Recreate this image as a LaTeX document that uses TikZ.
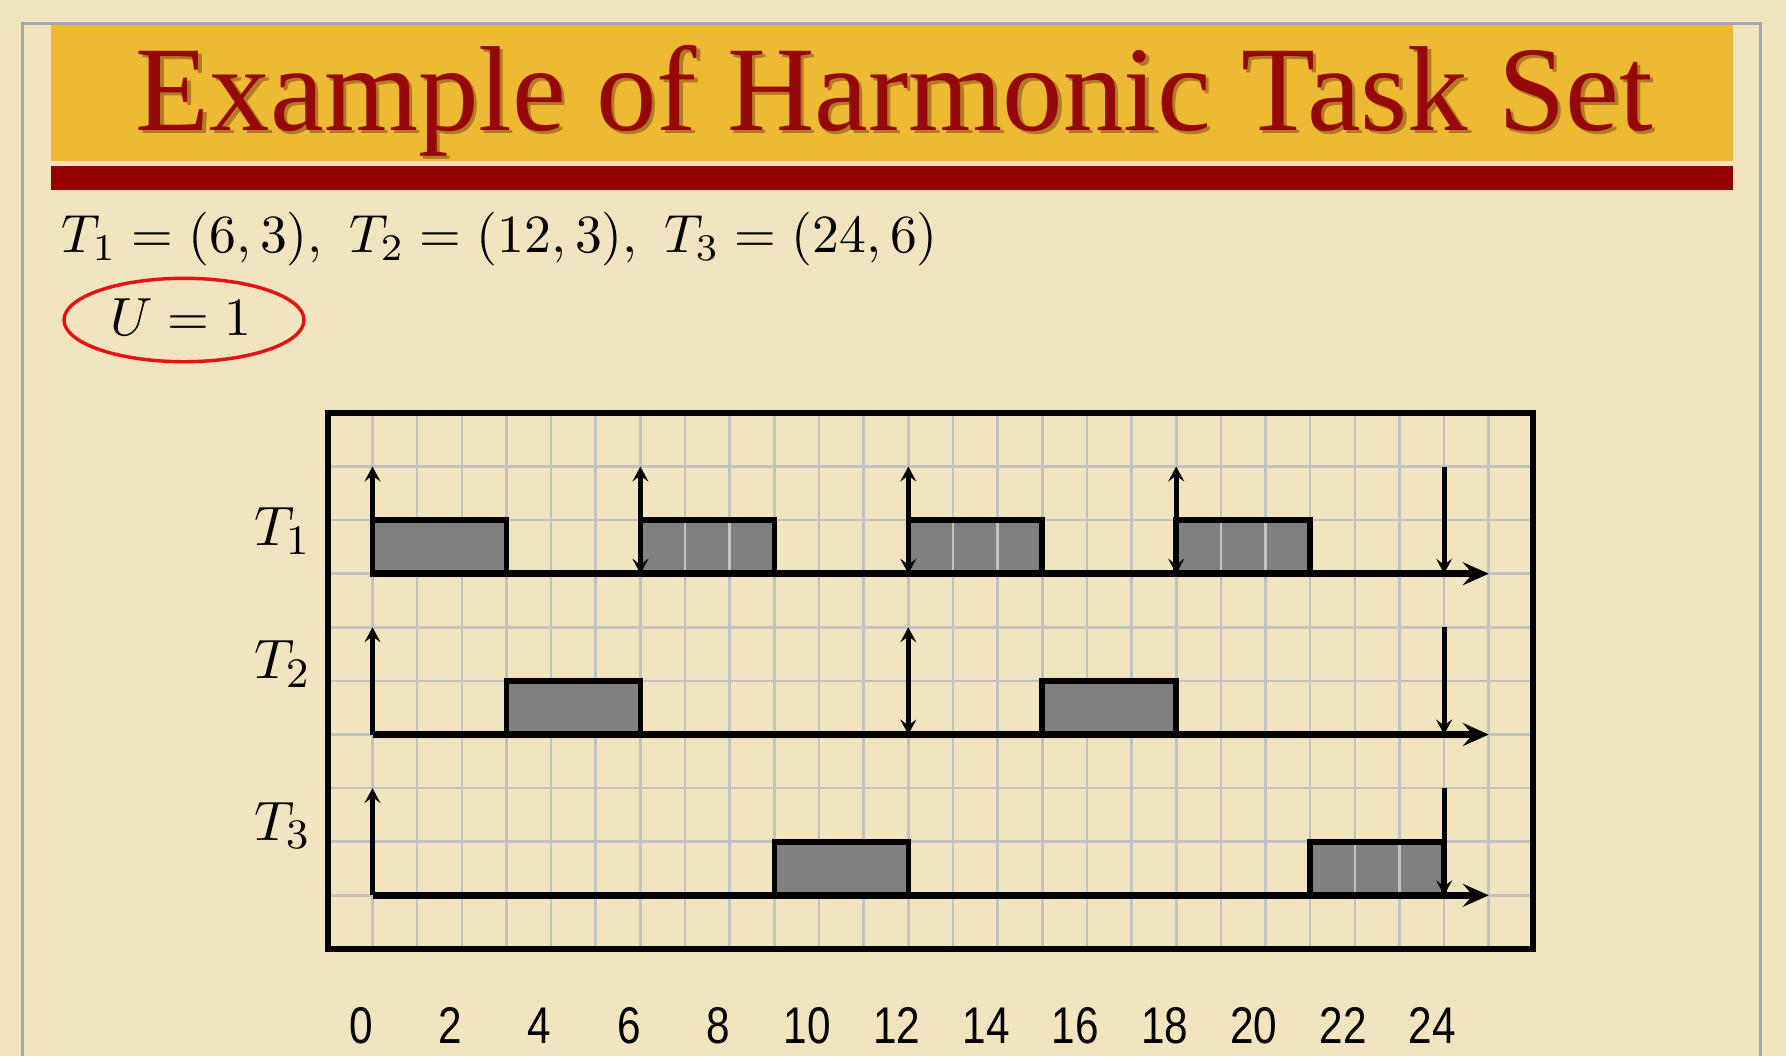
\documentclass[tikz,border=0pt]{standalone}
\usepackage{graphicx}
\usepackage{fontspec}
\newfontfamily\titlefont{Liberation Serif}
\newfontfamily\narrowsans[FakeStretch=0.82]{Liberation Sans}
\usetikzlibrary{arrows.meta, positioning}

\definecolor{parchment}{RGB}{242,228,190}
\definecolor{goldband}{RGB}{238,186,52}
\definecolor{barred}{RGB}{150,0,0}
\definecolor{titlered}{RGB}{150,8,8}
\definecolor{titleshade}{RGB}{178,122,34}
\definecolor{bordergray}{RGB}{160,168,180}
\definecolor{gridgray}{RGB}{194,194,196}
\definecolor{blockgray}{RGB}{128,128,128}
\definecolor{ringred}{RGB}{232,16,16}

% math at slide size
\newcommand{\bigmath}[1]{\scalebox{2.685}{$#1$}}
\newcommand{\taskname}[1]{\scalebox{2.78}{$T_{\mbox{\fontsize{7.55}{8}\selectfont #1}}$}}
\newcommand{\shadowed}[1]{\rlap{\hspace{1.6pt}\raisebox{-1.6pt}{\color{titleshade}#1}}#1}

\tikzset{
    jobtip/.tip={Stealth[length=7.5pt, width=8pt, inset=3pt]},
    gridline/.style={gridgray, line width=1.3pt},
    axisline/.style={line width=3.6pt, -{Stealth[length=13pt, width=11.5pt, inset=5pt]}},
    jobline/.style={line width=2.5pt},
    block/.style={fill=blockgray, draw=black, line width=2.8pt},
    ticklabel/.style={anchor=base, font=\narrowsans\fontsize{25.8}{30}\selectfont},
}

\begin{document}
\begin{tikzpicture}[x=0.5pt, y=-0.5pt]
        \useasboundingbox (0,0) rectangle (1786,1056);
        \fill[parchment] (0,0) rectangle (1786,1056);
        % Slide border
        \draw[bordergray, line width=1.5pt] (22,1056) -- (22,23) -- (1760,23) -- (1760,1056);

        % Title band
        \fill[goldband] (50.5,25) rectangle (1733,161);
        \fill[barred] (50.5,166) rectangle (1733,190);
        \node[anchor=base, text=titlered, font=\titlefont\fontsize{60.5}{70}\selectfont] (title) at (894.5,130)
            {\shadowed{Example of Harmonic Task Set}};

        % Task parameters
        \node[anchor=base west, inner sep=0] (params) at (61,252)
            {\bigmath{T_1 = (6,3),\ T_2 = (12,3),\ T_3 = (24,6)}};
        \node[anchor=base west, inner sep=0] (util) at (110,335) {\bigmath{U = 1}};
        \draw[ringred, line width=1.7pt] (184,320) ellipse [x radius=120, y radius=41.7];

        % Schedule
        \begin{scope}[shift={(372.5,573.7)}, x=22.325pt, y=26.8pt]
            % Grid
            \foreach \t in {-1,...,26} { \draw[gridline] (\t,-7) -- (\t,3); }
            \foreach \r in {-7,...,3} { \draw[gridline] (-1,\r) -- (26,\r); }

            % Jobs
            \foreach \s in {0,6,12,18} { \filldraw[block] (\s,0) rectangle ++(3,1); }
            \foreach \s in {3,15} { \filldraw[block] (\s,-3) rectangle ++(3,1); }
            \foreach \s in {9,21} { \filldraw[block] (\s,-6) rectangle ++(3,1); }
            \foreach \t in {7,8,13,14,19,20} { \draw[gridline] (\t,0.06) -- (\t,0.94); }
            \foreach \t in {22,23} { \draw[gridline] (\t,-5.94) -- (\t,-5.06); }

            % Time axes
            \foreach \y in {0,-3,-6} { \draw[axisline] (0,\y) -- (25,\y); }

            % Releases and deadlines
            \foreach \y in {0,-3,-6} {
                \draw[jobline, -jobtip] (0,\y) -- (0,\y+2);
                \draw[jobline, -jobtip] (24,\y+2) -- (24,\y);
            }
            \foreach \t in {6,12,18} { \draw[jobline, jobtip-jobtip] (\t,0) -- (\t,2); }
            \draw[jobline, jobtip-jobtip] (12,-3) -- (12,-1);

            % Frame
            \draw[line width=3pt] (-1,-7) rectangle (26,3);

            % Task names
            \node[anchor=base west, inner sep=0] (nameT1) at (-2.66,0.52) {\taskname{1}};
            \node[anchor=base west, inner sep=0] (nameT2) at (-2.66,-1.96) {\taskname{2}};
            \node[anchor=base west, inner sep=0] (nameT3) at (-2.66,-4.97) {\taskname{3}};

            % Time labels
            \foreach \t in {0,2,...,24} { \node[ticklabel] (tick\t) at (\t-0.26,-8.77) {\t}; }
        \end{scope}
    \end{tikzpicture}
\end{document}
